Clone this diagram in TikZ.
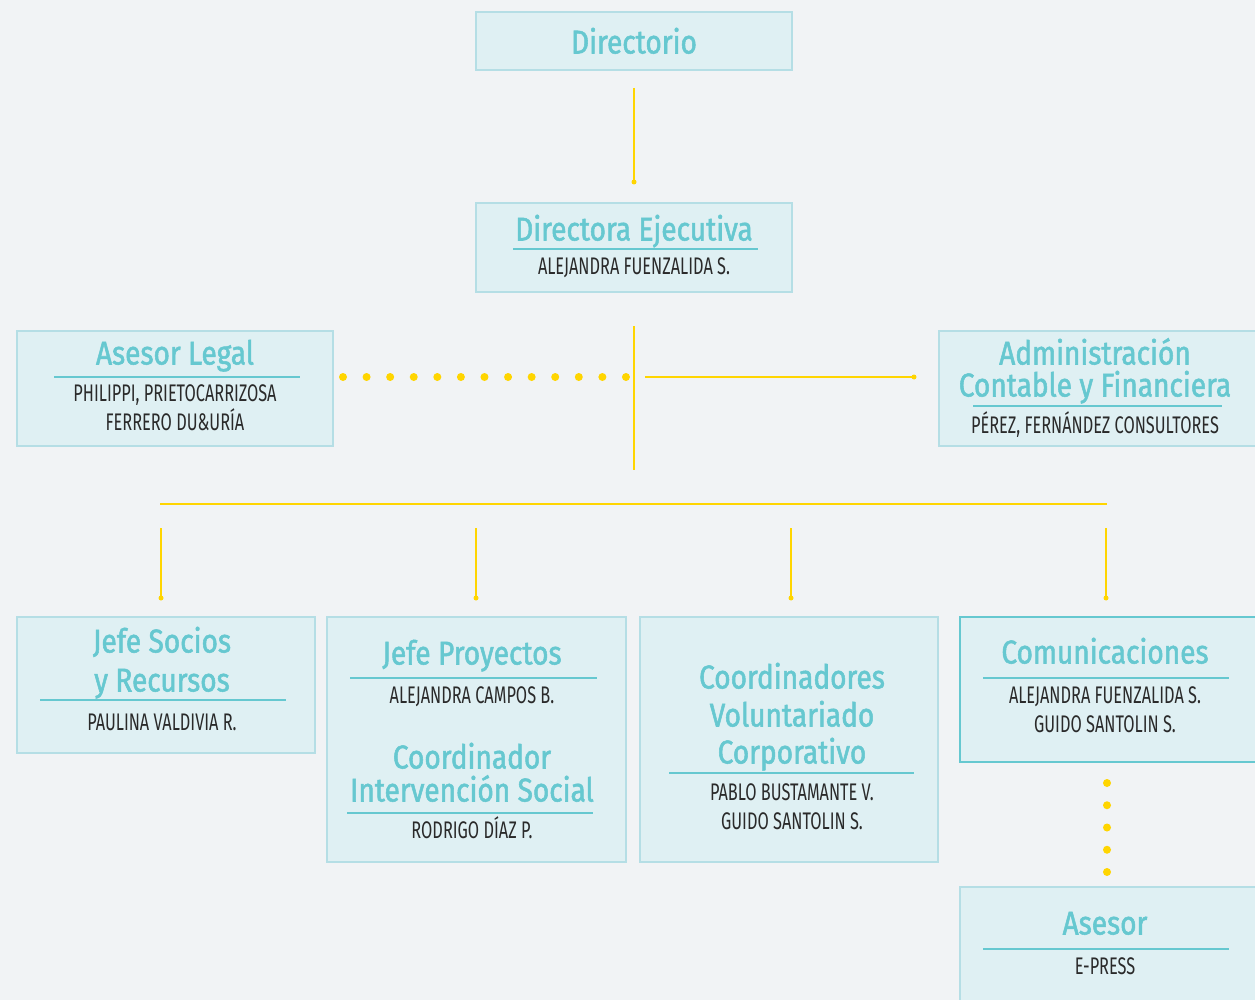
\documentclass[tikz,border=0pt]{standalone}
\usepackage{fontspec}
\newfontfamily\titlefont[FakeStretch=0.85,FakeBold=1.6]{Fira Sans}
\newfontfamily\namefont[FakeStretch=0.68]{Fira Sans}
\definecolor{bgc}{HTML}{F1F3F5}
\definecolor{boxfill}{HTML}{DFF0F3}
\definecolor{boxborder}{HTML}{B5DEE5}
\definecolor{teal}{HTML}{66C8D0}
\definecolor{gold}{HTML}{FFD500}
\definecolor{ink}{HTML}{2A2A2A}
\begin{document}
\begin{tikzpicture}[x=1pt,y=-1pt,
  orgbox/.style={rectangle,draw=boxborder,fill=boxfill,line width=2.5pt,inner sep=0pt},
  darkbox/.style={orgbox,draw=teal},
  ttl/.style={anchor=base,yshift=-11.5pt,inner sep=0pt,text=teal,font=\titlefont\fontsize{33}{33}\selectfont},
  nm/.style={anchor=base,yshift=-7.5pt,inner sep=0pt,text=ink,font=\namefont\fontsize{24}{24}\selectfont},
  uline/.style={draw=teal,line width=2.5pt},
  link/.style={draw=gold,line width=1.6pt},
  dotlink/.style={draw=gold,line width=8pt,line cap=round,dash pattern=on 0pt off 23.58pt},
  vdotlink/.style={draw=gold,line width=8pt,line cap=round,dash pattern=on 0pt off 22.25pt},
  enddot/.style={circle,fill=gold,inner sep=0pt,minimum size=5pt}
]
\useasboundingbox (0,0) rectangle (1255,1000);
\fill[bgc] (0,0) rectangle (1255,1000);

% boxes
\node[orgbox,minimum width=316pt,minimum height=58pt] (dir) at (634,41) {};
\node[orgbox,minimum width=316pt,minimum height=89pt] (de) at (634,247.5) {};
\node[orgbox,minimum width=316pt,minimum height=115pt] (al) at (175,388.5) {};
\node[orgbox,minimum width=319pt,minimum height=115pt] (adm) at (1098.5,388.5) {};
\node[orgbox,minimum width=298pt,minimum height=136pt] (b1) at (166,685) {};
\node[orgbox,minimum width=299pt,minimum height=245pt] (b2) at (476.5,739.5) {};
\node[orgbox,minimum width=298pt,minimum height=245pt] (b3) at (789,739.5) {};
\node[darkbox,minimum width=298pt,minimum height=145pt] (b4) at (1109,689.5) {};
\node[orgbox,minimum width=298pt,minimum height=118pt] (as) at (1109,946) {};

% texts
\node[ttl] (t-dir) at (634,42) {Directorio};

\node[ttl] (t-de) at (634,229) {Directora Ejecutiva};
\draw[uline] (513,249) -- (758,249);
\node[nm] (n-de) at (634,267) {ALEJANDRA FUENZALIDA S.};

\node[ttl] (t-al) at (175,353) {Asesor Legal};
\draw[uline] (54,377) -- (300,377);
\node[nm] (n-al1) at (175,394) {PHILIPPI, PRIETOCARRIZOSA};
\node[nm] (n-al2) at (175,423) {FERRERO DU\&URÍA};

\node[ttl] (t-adm1) at (1095,353) {Administración};
\node[ttl] (t-adm2) at (1095,385) {Contable y Financiera};
\draw[uline] (973,406) -- (1222,406);
\node[nm] (n-adm) at (1095,426) {PÉREZ, FERNÁNDEZ CONSULTORES};

\node[ttl] (t-b1a) at (162,641) {Jefe Socios};
\node[ttl] (t-b1b) at (162,680) {y Recursos};
\draw[uline] (40,700) -- (286,700);
\node[nm] (n-b1) at (162,723) {PAULINA VALDIVIA R.};

\node[ttl] (t-b2a) at (472,653) {Jefe Proyectos};
\draw[uline] (350,678) -- (597,678);
\node[nm] (n-b2a) at (472,696) {ALEJANDRA CAMPOS B.};
\node[ttl] (t-b2b) at (472,757) {Coordinador};
\node[ttl] (t-b2c) at (472,790) {Intervención Social};
\draw[uline] (347,813) -- (593,813);
\node[nm] (n-b2b) at (472,831) {RODRIGO DÍAZ P.};

\node[ttl] (t-b3a) at (792,677) {Coordinadores};
\node[ttl] (t-b3b) at (792,715) {Voluntariado};
\node[ttl] (t-b3c) at (792,752) {Corporativo};
\draw[uline] (669,773) -- (914,773);
\node[nm] (n-b3a) at (792,793) {PABLO BUSTAMANTE V.};
\node[nm] (n-b3b) at (792,822) {GUIDO SANTOLIN S.};

\node[ttl] (t-b4) at (1105,652) {Comunicaciones};
\draw[uline] (983,678) -- (1229,678);
\node[nm] (n-b4a) at (1105,696) {ALEJANDRA FUENZALIDA S.};
\node[nm] (n-b4b) at (1105,725) {GUIDO SANTOLIN S.};

\node[ttl] (t-as) at (1105,923) {Asesor};
\draw[uline] (983,949) -- (1229,949);
\node[nm] (n-as) at (1105,967) {E-PRESS};

% connectors
\coordinate (c-top) at (634,88);
\coordinate (c-de) at (634,182);
\draw[link] (c-top) -- (c-de);
\node[enddot] (d-de) at (c-de) {};

\coordinate (v-top) at (634,326);
\coordinate (v-bot) at (634,470);
\draw[link] (v-top) -- (v-bot);

\coordinate (dl-a) at (343,377);
\coordinate (dl-b) at (627,377);
\draw[dotlink] (dl-a) -- (dl-b);

\coordinate (r-a) at (645,377);
\coordinate (r-b) at (914,377);
\draw[link] (r-a) -- (r-b);
\node[enddot] (d-adm) at (r-b) {};

\coordinate (bar-l) at (160,504);
\coordinate (bar-r) at (1107,504);
\draw[link] (bar-l) -- (bar-r);

\foreach \i/\x in {1/161,2/476,3/791,4/1106}{
  \coordinate (drop\i-a) at (\x,528);
  \coordinate (drop\i-b) at (\x,598);
  \draw[link] (drop\i-a) -- (drop\i-b);
  \node[enddot] (drop\i-d) at (drop\i-b) {};
}

\coordinate (vd-a) at (1107,783);
\coordinate (vd-b) at (1107,873);
\draw[vdotlink] (vd-a) -- (vd-b);
\end{tikzpicture}
\end{document}
